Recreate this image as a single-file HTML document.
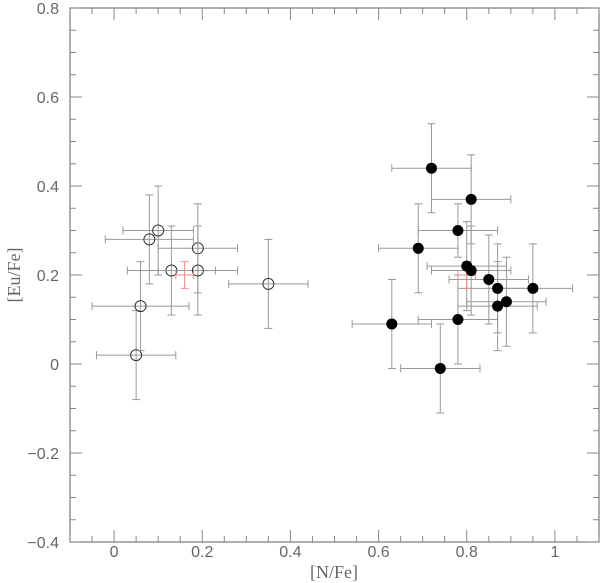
<!DOCTYPE html>
<html><head><meta charset="utf-8"><style>
body{margin:0;background:#fff}
svg{display:block}
text{font-family:"Liberation Sans",sans-serif;fill:#666;font-size:16px}
</style></head><body>
<svg id="chart" width="600" height="583" viewBox="0 0 600 583" xmlns="http://www.w3.org/2000/svg">
<g id="axes"></g><g id="marks"></g>
<text x="334" y="578" text-anchor="middle" style="font-family:'Liberation Serif',serif;font-size:18px">[N/Fe]</text>
<text transform="translate(20,275) rotate(-90)" text-anchor="middle" style="font-family:'Liberation Serif',serif;font-size:18px">[Eu/Fe]</text>
</svg>
<script>
const openX=[0.05,0.06,0.08,0.10,0.13,0.19,0.19,0.35];
const openY=[0.02,0.13,0.28,0.30,0.21,0.26,0.21,0.18];
const openXErr=[0.09,0.11,0.10,0.08,0.10,0.09,0.09,0.09];
const openYErr=[0.10,0.10,0.10,0.10,0.10,0.10,0.10,0.10];
const filledX=[0.72,0.81,0.78,0.69,0.80,0.81,0.85,0.87,0.95,0.89,0.87,0.78,0.63,0.74];
const filledY=[0.44,0.37,0.30,0.26,0.22,0.21,0.19,0.17,0.17,0.14,0.13,0.10,0.09,-0.01];
const filledXErr=[0.09,0.09,0.09,0.09,0.09,0.09,0.09,0.09,0.09,0.09,0.09,0.09,0.09,0.09];
const filledYErr=[0.10,0.10,0.06,0.10,0.10,0.10,0.10,0.10,0.10,0.10,0.10,0.10,0.10,0.10];
const meanX=[0.16,0.80];
const meanY=[0.20,0.20];
const meanXErr=[0.02,0.02];
const meanYErr=[0.03,0.03];
const xTicks=[0,0.2,0.4,0.6,0.8,1];
const xTickLabels=["0","0.2","0.4","0.6","0.8","1"];
const yTicks=[-0.4,-0.2,0,0.2,0.4,0.6,0.8];
const yTickLabels=["\u22120.4","\u22120.2","0","0.2","0.4","0.6","0.8"];

const L=70,R=599,T=8,B=542,xmin=-0.1,xmax=1.1,ymin=-0.4,ymax=0.8;
const sx=v=>L+(v-xmin)/(xmax-xmin)*(R-L);
const sy=v=>B-(v-ymin)/(ymax-ymin)*(B-T);
const NS="http://www.w3.org/2000/svg";
function mk(tag,attrs,parent){const e=document.createElementNS(NS,tag);for(const k in attrs)e.setAttribute(k,attrs[k]);parent.appendChild(e);return e;}
const ax=document.getElementById('axes'),mg=document.getElementById('marks');
const frame=mk('rect',{x:L,y:T,width:R-L,height:B-T,fill:'none',stroke:'#777','stroke-width':1.2},ax);


for(let v=-0.1;v<=1.1001;v+=0.05){const major=Math.abs(v/0.2-Math.round(v/0.2))<1e-6;const len=major?12:6;const x=sx(v);
mk('line',{x1:x,x2:x,y1:B,y2:B-len,stroke:'#888'},ax);mk('line',{x1:x,x2:x,y1:T,y2:T+len,stroke:'#888'},ax);}
for(let v=-0.4;v<=0.8001;v+=0.05){const major=Math.abs(v/0.2-Math.round(v/0.2))<1e-6;const len=major?12:6;const y=sy(v);
mk('line',{x1:L,x2:L+len,y1:y,y2:y,stroke:'#888'},ax);mk('line',{x1:R,x2:R-len,y1:y,y2:y,stroke:'#888'},ax);}
xTicks.forEach((v,i)=>{const t=mk('text',{x:sx(v),y:557,'text-anchor':'middle'},ax);t.textContent=xTickLabels[i];

});
yTicks.forEach((v,i)=>{const t=mk('text',{x:59,y:sy(v)+6,'text-anchor':'end'},ax);t.textContent=yTickLabels[i];

});
function errbar(x,y,xe,ye,col,cap){const g=mk('g',{stroke:col,'stroke-width':1},mg);
mk('line',{x1:sx(x-xe),x2:sx(x+xe),y1:sy(y),y2:sy(y)},g);
mk('line',{x1:sx(x),x2:sx(x),y1:sy(y-ye),y2:sy(y+ye)},g);
mk('line',{x1:sx(x-xe),x2:sx(x-xe),y1:sy(y)-cap,y2:sy(y)+cap},g);
mk('line',{x1:sx(x+xe),x2:sx(x+xe),y1:sy(y)-cap,y2:sy(y)+cap},g);
mk('line',{x1:sx(x)-cap,x2:sx(x)+cap,y1:sy(y-ye),y2:sy(y-ye)},g);
mk('line',{x1:sx(x)-cap,x2:sx(x)+cap,y1:sy(y+ye),y2:sy(y+ye)},g);return g;}
openX.forEach((x,i)=>{const g=errbar(x,openY[i],openXErr[i],openYErr[i],'#999',4);


const c=mk('circle',{cx:sx(x),cy:sy(openY[i]),r:5.5,fill:'none',stroke:'#333','stroke-width':1},mg);

});
filledX.forEach((x,i)=>{const g=errbar(x,filledY[i],filledXErr[i],filledYErr[i],'#999',4);

});
meanX.forEach((x,i)=>{const g=errbar(x,meanY[i],meanXErr[i],meanYErr[i],'#e88',4);

});
filledX.forEach((x,i)=>{const c=mk('circle',{cx:sx(x),cy:sy(filledY[i]),r:5.5,fill:'#000'},mg);

});
</script>
</body></html>
